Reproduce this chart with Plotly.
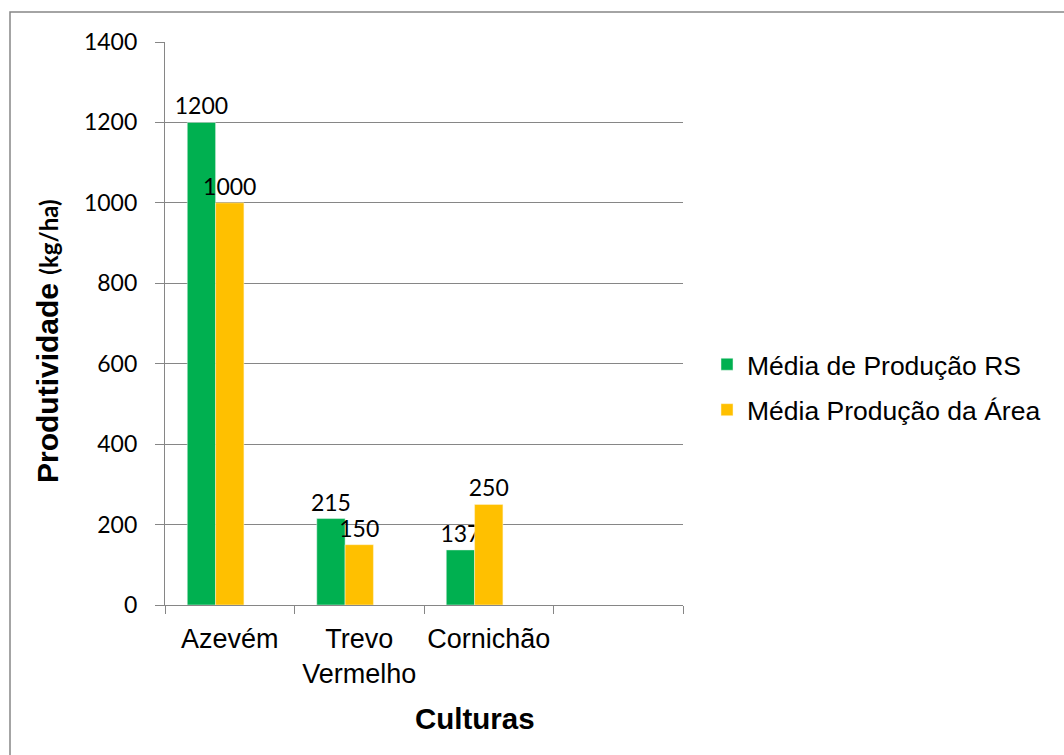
import plotly.graph_objects as go

categories = ["Azevém", "Trevo<br>Vermelho", "Cornichão", " "]
series_rs_name = "Média de Produção RS"
series_rs = [1200, 215, 137, None]
series_area_name = "Média Produção da Área"
series_area = [1000, 150, 250, None]
series_empty = [None, None, None, None]
y_ticks = [0, 200, 400, 600, 800, 1000, 1200, 1400]

W, H = 1064, 755
L, R, T, B = 165, 683, 42, 605

def px_x(p):
    return (p - L) / (R - L)

def px_y(p):
    return (B - p) / (B - T)

GRID = "#868686"
ARIAL = "Liberation Sans, Arial, sans-serif"
label_font = dict(family="Lato, Calibri, sans-serif", size=23, color="black")

fig = go.Figure()
fig.add_trace(go.Bar(x=categories, y=series_rs, name=series_rs_name,
                     marker=dict(color="#00B050", line=dict(color="#e8f5ec", width=0.5)),
                     text=[str(v) if v is not None else "" for v in series_rs],
                     textposition="outside", cliponaxis=False, constraintext="none",
                     textfont=label_font, legendgroup="a"))
fig.add_trace(go.Bar(x=categories, y=series_area, name=series_area_name,
                     marker=dict(color="#FFC000", line=dict(color="#fff4d6", width=0.5)),
                     text=[str(v) if v is not None else "" for v in series_area],
                     textposition="outside", cliponaxis=False, constraintext="none",
                     textfont=label_font, legendgroup="b"))
fig.add_trace(go.Bar(x=categories, y=series_empty, name="", showlegend=False,
                     marker=dict(color="rgba(0,0,0,0)"), hoverinfo="skip"))

fig.update_layout(
    width=W, height=H,
    margin=dict(l=L, r=W - R, t=T, b=H - B, pad=0),
    paper_bgcolor="white", plot_bgcolor="white",
    barmode="group", bargap=0.344, bargroupgap=0,
    showlegend=True,
    legend=dict(x=px_x(707), y=px_y(387), xanchor="left", yanchor="middle",
                font=dict(family=ARIAL, size=26.5, color="black"),
                tracegroupgap=8, traceorder="grouped", bgcolor="rgba(0,0,0,0)"),
)

fig.update_xaxes(
    type="category", tickson="boundaries", ticks="outside", ticklen=8,
    tickcolor=GRID, tickwidth=1.3, showline=True, linecolor=GRID, linewidth=1.3,
    showgrid=False, tickfont=dict(family=ARIAL, size=27, color="black"),
    tickangle=0, range=[-0.5, 3.5], ticklabelstandoff=9,
)
fig.update_yaxes(
    range=[0, 1400], tickvals=y_ticks, ticktext=[str(v) for v in y_ticks],
    ticks="outside", ticklen=9, tickcolor=GRID, tickwidth=1.3,
    showline=True, linecolor=GRID, linewidth=1.3,
    showgrid=True, gridcolor=GRID, gridwidth=1.3, zeroline=False,
    tickfont=label_font, ticklabelstandoff=13,
)

# axis titles
fig.add_annotation(xref="paper", yref="paper", x=px_x(47), y=px_y(341),
                   text="<b>Produtividade <span style='font-family:Lato;font-size:24px'>(kg/ha)</span></b>",
                   textangle=-90, showarrow=False, xanchor="center", yanchor="middle",
                   font=dict(family=ARIAL, size=30, color="black"))
fig.add_annotation(xref="paper", yref="paper", x=px_x(475), y=px_y(718),
                   text="<b>Culturas</b>", showarrow=False, xanchor="center", yanchor="middle",
                   font=dict(family=ARIAL, size=29.5, color="black"))

# chart border
fig.add_shape(type="rect", xref="paper", yref="paper",
              x0=px_x(10), y0=px_y(12), x1=px_x(1080), y1=px_y(770),
              line=dict(color=GRID, width=1.5), fillcolor="rgba(0,0,0,0)", layer="below")

fig.write_html("out.html", config={"displayModeBar": False},
               post_script="document.body.style.margin='0px';")
